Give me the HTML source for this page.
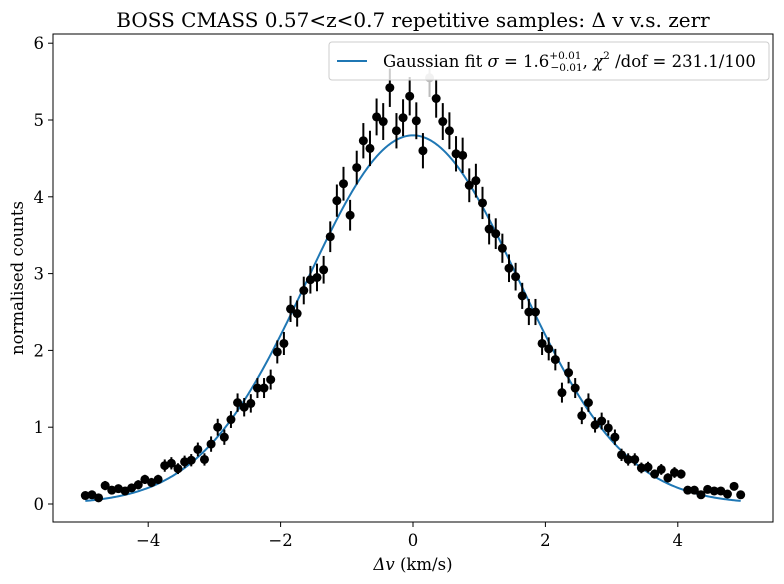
<!DOCTYPE html>
<html><head><meta charset="utf-8"><style>body{margin:0;background:#fff}svg{display:block}text{font-family:"DejaVu Serif","Liberation Serif",serif;fill:#000}</style></head>
<body>
<svg id="chart" width="784" height="584" xmlns="http://www.w3.org/2000/svg">
<text x="413" y="27" font-size="20" text-anchor="middle">BOSS CMASS 0.57&lt;z&lt;0.7 repetitive samples: Δ v v.s. zerr</text>
<rect x="53" y="34" width="720" height="488" fill="none" stroke="#000" stroke-width="1"/>
<g id="curve"></g><g id="points"></g><g id="xaxis"></g><g id="yaxis"></g>
<text x="413" y="570" font-size="16.5" text-anchor="middle"><tspan font-style="italic">Δv</tspan> (km/s)</text>
<text transform="translate(23,278) rotate(-90)" font-size="16.5" text-anchor="middle">normalised counts</text>
<g>
<rect x="329" y="42" width="440" height="38" rx="3" fill="#fff" fill-opacity="0.8" stroke="#ccc"/>
<line x1="337" y1="61" x2="367" y2="61" stroke="#1f77b4" stroke-width="2"/>
<text x="383" y="67" font-size="16.5">Gaussian fit <tspan font-style="italic">σ</tspan> = 1.6<tspan font-size="10.5" dy="-8">+0.01</tspan><tspan font-size="10.5" dx="-31" dy="12">−0.01</tspan><tspan dy="-4">, <tspan font-style="italic">χ</tspan></tspan><tspan font-size="10.5" dy="-8">2</tspan><tspan dy="8"> /dof = 231.1/100</tspan></text>
</g>
</svg>
<script>
const values=[0.11,0.12,0.08,0.24,0.18,0.20,0.17,0.21,0.25,0.32,0.28,0.32,0.50,0.53,0.46,0.55,0.57,0.71,0.58,0.78,1.00,0.87,1.10,1.32,1.26,1.31,1.51,1.51,1.62,1.98,2.09,2.54,2.48,2.78,2.92,2.95,3.05,3.48,3.95,4.17,3.76,4.38,4.73,4.63,5.04,4.98,5.42,4.86,5.03,5.31,4.99,4.60,5.55,5.28,4.98,4.86,4.56,4.54,4.15,4.21,3.92,3.58,3.52,3.33,3.07,2.96,2.71,2.50,2.50,2.09,2.02,1.88,1.45,1.71,1.51,1.15,1.32,1.03,1.08,0.99,0.87,0.64,0.58,0.58,0.47,0.48,0.39,0.45,0.34,0.41,0.39,0.18,0.18,0.12,0.19,0.17,0.17,0.13,0.23,0.12];
const errors=[0.04,0.04,0.03,0.06,0.05,0.05,0.05,0.05,0.06,0.06,0.06,0.06,0.08,0.08,0.07,0.08,0.08,0.09,0.08,0.10,0.11,0.10,0.11,0.12,0.12,0.12,0.13,0.13,0.13,0.15,0.15,0.17,0.17,0.18,0.18,0.18,0.18,0.20,0.21,0.22,0.20,0.22,0.23,0.23,0.24,0.24,0.25,0.23,0.24,0.25,0.24,0.23,0.25,0.25,0.24,0.24,0.23,0.23,0.22,0.22,0.21,0.20,0.20,0.19,0.18,0.18,0.17,0.17,0.17,0.15,0.15,0.14,0.13,0.14,0.13,0.11,0.12,0.10,0.11,0.10,0.10,0.08,0.08,0.08,0.07,0.07,0.06,0.07,0.06,0.07,0.06,0.05,0.05,0.04,0.05,0.05,0.05,0.04,0.05,0.04];
const xStart=-4.95, binWidth=0.1;
const fitAmp=4.8, fitSigma=1.6;
const xTicks=[-4,-2,0,2,4];
const yTicks=[0,1,2,3,4,5,6];
const NS='http://www.w3.org/2000/svg';
const X=v=>413+v*66.2, Y=v=>504-v*76.8;
function mk(t,a,p){const e=document.createElementNS(NS,t);for(const k in a)e.setAttribute(k,a[k]);p.appendChild(e);return e;}
const pts=document.getElementById('points');
values.forEach((v,i)=>{const x=X(xStart+i*binWidth);const c=(i===52)?'#bbb':'#000';
 const l=mk('line',{x1:x,x2:x,y1:Y(v-errors[i]),y2:Y(v+errors[i]),stroke:c,'stroke-width':2},pts);
 
 
 const d=mk('circle',{cx:x,cy:Y(v),r:4.5,fill:c},pts);
 
 
});
let path='';for(let k=0;k<=400;k++){const x=-4.95+k*9.9/400;const y=fitAmp*Math.exp(-x*x/(2*fitSigma*fitSigma));path+=(k?'L':'M')+X(x).toFixed(2)+','+Y(y).toFixed(2);}
const cv=mk('path',{d:path,fill:'none',stroke:'#1f77b4','stroke-width':2},document.getElementById('curve'));


const xa=document.getElementById('xaxis');
xTicks.forEach(t=>{mk('line',{x1:X(t),x2:X(t),y1:522,y2:527,stroke:'#000'},xa);
 const tx=mk('text',{x:X(t),y:546,'font-size':16.5,'text-anchor':'middle'},xa);tx.textContent=(t<0?'−':'')+Math.abs(t);
 
 });
const ya=document.getElementById('yaxis');
yTicks.forEach(t=>{mk('line',{x1:48,x2:53,y1:Y(t),y2:Y(t),stroke:'#000'},ya);
 const tx=mk('text',{x:44,y:Y(t)+6,'font-size':16.5,'text-anchor':'end'},ya);tx.textContent=t;
 
 });
</script>
</body></html>
